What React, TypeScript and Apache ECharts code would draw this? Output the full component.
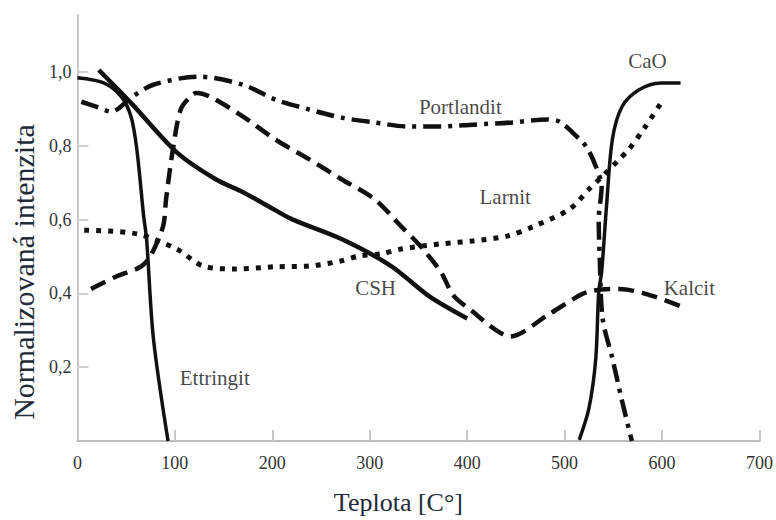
import React, { useEffect, useRef } from "react";
import * as echarts from "echarts";

// x: Teplota [°C], y: normalizovaná intenzita
const ettringit: [number, number][] = [
  [0, 0.984], [27, 0.97], [45, 0.933], [55, 0.879], [61, 0.79], [68, 0.609],
  [71, 0.547], [78, 0.278], [93, 0.0],
];
const csh: [number, number][] = [
  [22, 1.005], [55, 0.916], [102, 0.782], [142, 0.709], [170, 0.674], [196, 0.636],
  [220, 0.601], [271, 0.547], [322, 0.474], [360, 0.394], [400, 0.332],
];
const portlandit: [number, number][] = [
  [4, 0.919], [20, 0.905], [35, 0.892], [55, 0.93], [78, 0.965], [124, 0.987],
  [170, 0.965], [203, 0.925], [238, 0.898], [271, 0.876], [305, 0.863], [339, 0.852],
  [373, 0.852], [406, 0.857], [447, 0.863], [482, 0.871], [495, 0.865], [508, 0.836],
  [522, 0.798], [532, 0.744], [538, 0.69], [535, 0.6], [536, 0.5], [539, 0.332],
  [549, 0.224], [559, 0.108], [569, 0.0],
];
const larnit: [number, number][] = [
  [7, 0.571], [61, 0.561], [102, 0.52], [129, 0.474], [163, 0.466], [203, 0.472],
  [238, 0.474], [271, 0.488], [289, 0.501], [312, 0.507], [332, 0.52], [373, 0.534],
  [406, 0.542], [441, 0.555], [467, 0.58], [505, 0.628], [525, 0.682], [540, 0.72],
  [556, 0.763], [566, 0.79], [583, 0.852], [599, 0.916],
];
const kalcit: [number, number][] = [
  [14, 0.412], [41, 0.447], [65, 0.472], [75, 0.501], [88, 0.582], [91, 0.655],
  [98, 0.79], [106, 0.898], [116, 0.933], [122, 0.943], [136, 0.933], [170, 0.879],
  [203, 0.817], [238, 0.763], [271, 0.709], [305, 0.655], [332, 0.582], [352, 0.528],
  [373, 0.458], [386, 0.394], [406, 0.35], [427, 0.305], [444, 0.283], [482, 0.34],
  [515, 0.394], [528, 0.407], [556, 0.412], [589, 0.394], [620, 0.364],
];
const cao: [number, number][] = [
  [515, 0.003], [525, 0.089], [532, 0.224], [535, 0.404], [538, 0.458], [543, 0.636],
  [549, 0.817], [559, 0.906], [576, 0.951], [599, 0.97], [619, 0.97],
];

const labelNames = ["Portlandit", "Larnit", "CSH", "Ettringit", "CaO", "Kalcit"];
const labelX = [393, 439, 306, 141, 585, 628];
const labelY = [0.906, 0.66, 0.415, 0.17, 1.03, 0.415];

const yTicks = [0.2, 0.4, 0.6, 0.8, 1.0];
const xName = "Teplota [C°]";
const yName = "Normalizovaná intenzita";

const FONT = "Liberation Serif";
const INK = "#111111";

export default function App() {
  const ref = useRef<HTMLDivElement>(null);
  useEffect(() => {
    if (!ref.current) return;
    const chart = echarts.init(ref.current, undefined, { renderer: "svg" });
    const line = (name: string, data: [number, number][], width: number, type: any, z: number) => ({
      name,
      type: "line",
      data,
      smooth: 0.3,
      showSymbol: false,
      symbol: "none",
      z,
      lineStyle: { color: INK, width, type, cap: "butt", join: "round" },
    });
    chart.setOption({
      animation: false,
      backgroundColor: "#ffffff",
      textStyle: { fontFamily: FONT },
      grid: { left: 73, right: 14, top: 15, bottom: 77, containLabel: false },
      xAxis: {
        type: "value",
        min: 0,
        max: 700,
        interval: 100,
        name: xName,
        nameLocation: "middle",
        nameGap: 48,
        nameTextStyle: { fontFamily: FONT, fontSize: 26, color: "#222a38", padding: [0, 40, 0, 0] },
        axisLine: { lineStyle: { color: "#bdbdbd", width: 2 } },
        axisTick: { inside: true, length: 11, lineStyle: { color: "#c8c8c8", width: 2 } },
        axisLabel: { fontFamily: FONT, fontSize: 18, color: "#333", margin: 13 },
        splitLine: { show: false },
      },
      yAxis: {
        type: "value",
        min: 0,
        max: 1.154,
        name: yName,
        nameLocation: "middle",
        nameGap: 38,
        nameTextStyle: { fontFamily: FONT, fontSize: 30, color: "#222a38", padding: [0, 88, 0, 0] },
        axisLine: { show: true, lineStyle: { color: "#c8c8c8", width: 2 } },
        axisTick: { show: true, inside: true, length: 11, customValues: yTicks, lineStyle: { color: "#d0d0d0", width: 2 } },
        axisLabel: {
          fontFamily: FONT,
          fontSize: 18,
          color: "#333",
          margin: 6,
          customValues: yTicks,
          formatter: (v: number) => v.toFixed(1).replace(".", ","),
        },
        splitLine: { show: false },
      },
      series: [
        line("Ettringit", ettringit, 3.5, "solid", 5),
        line("CSH", csh, 4.5, "solid", 5),
        line("Portlandit", portlandit, 4.5, [18, 7, 4, 7], 4),
        line("Larnit", larnit, 5, [5, 7], 3),
        line("Kalcit", kalcit, 4.5, [16, 8], 4),
        line("CaO", cao, 3.5, "solid", 5),
        {
          type: "scatter",
          name: "labels",
          symbolSize: 0,
          z: 10,
          silent: true,
          data: labelNames.map((n, i) => ({ name: n, value: [labelX[i], labelY[i]] })),
          label: {
            show: true,
            position: "inside",
            formatter: (p: any) => p.name,
            fontFamily: FONT,
            fontSize: 21,
            color: "#151515",
          },
        },
      ],
    });
    return () => chart.dispose();
  }, []);
  return (
    <div
      ref={ref}
      style={{ position: "absolute", left: 0, top: 0, width: 776, height: 520, background: "#fff" }}
    />
  );
}
